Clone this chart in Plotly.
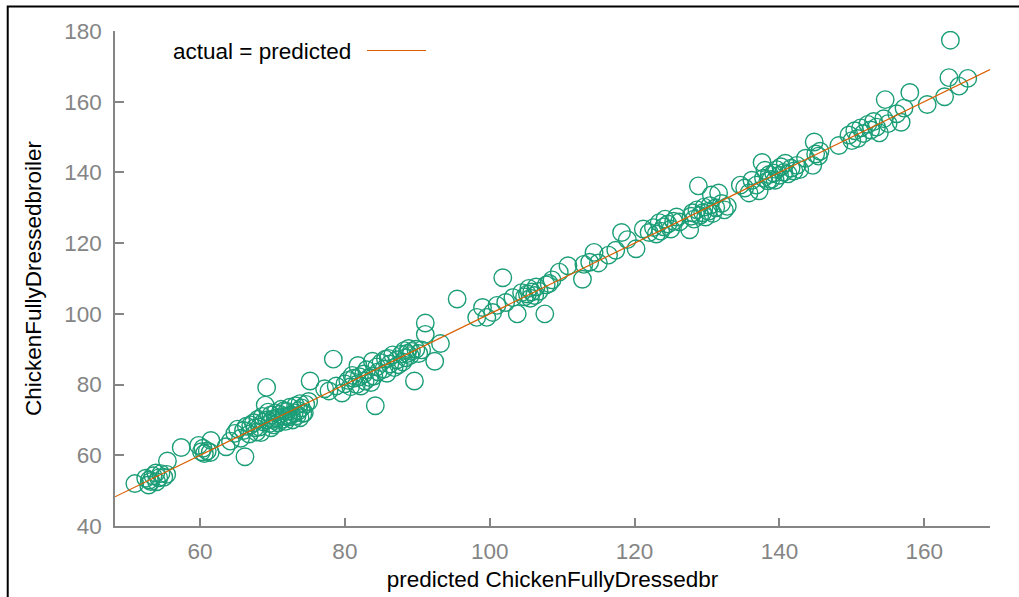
import plotly.graph_objects as go

# predicted vs actual values, grouped by region of the chart
predicted = [
    51.0, 52.5, 52.9, 53.2, 53.5, 53.9, 54.3, 54.6, 55.0, 55.4, 55.5, 53.0, 54.0,
    57.4, 59.8, 60.2, 60.6, 61.0, 61.4, 61.5, 60.4,
    63.6, 64.2, 64.8, 65.2, 65.6, 66.2, 66.0, 66.4, 66.8, 67.0, 67.4, 67.8, 68.0, 68.2, 68.6,
    69.2, 69.0, 69.2, 69.6, 69.8, 70.0, 70.2, 70.4, 70.6, 70.8, 71.0, 71.2, 71.4, 71.6, 71.8,
    72.0, 72.2, 72.4, 72.6, 72.8, 73.0, 73.2, 73.4, 73.6, 73.8, 74.0, 74.2, 74.4, 74.6, 75.0,
    75.2, 73.8, 67.6, 68.8, 69.4, 70.4, 71.6, 72.2, 69.8, 68.4,
    77.2, 77.8, 78.4, 78.8, 79.6, 80.0, 80.4, 80.8, 81.2, 81.6, 81.8, 82.0, 82.2, 82.6, 82.8,
    83.0, 83.4, 83.6, 83.8, 84.2, 84.4, 84.6, 85.0, 85.4, 85.8, 86.0, 86.2, 86.6, 86.8, 87.2,
    87.4, 87.8, 88.0, 88.2, 88.4, 88.6, 88.8, 89.0, 89.2, 89.6, 89.8, 90.2, 90.6, 91.1, 91.1,
    92.4, 93.2, 81.0, 84.0, 85.6,
    95.5, 98.2, 99.0, 99.6, 100.4, 101.0, 101.8, 102.2, 103.2, 103.8, 104.4, 104.8, 105.2,
    105.4, 105.6, 105.8, 106.2, 106.4, 106.8, 107.6, 107.8, 108.2, 108.6, 109.6, 110.8, 112.8,
    113.0, 113.8, 114.4, 115.0, 116.4, 117.4, 118.2, 119.0, 120.2,
    121.2, 122.0, 122.6, 123.0, 123.4, 123.6, 124.0, 124.2, 124.6, 125.0, 125.4, 125.8, 126.2,
    127.6, 127.8, 128.0, 128.2, 128.6, 128.8, 129.0, 129.4, 129.6, 129.8, 130.2, 130.4, 130.6,
    130.8, 131.2, 131.6, 132.0, 132.4, 132.8,
    134.6, 135.2, 135.8, 136.2, 136.8, 137.2, 137.6, 137.8, 138.0, 138.4, 138.6, 138.8, 139.2,
    139.4, 139.6, 140.0, 140.2, 140.6, 140.8, 141.2, 141.6, 142.0, 142.4, 142.8, 143.6, 144.6,
    144.8, 145.0, 145.4, 145.6,
    148.2, 149.6, 150.0, 150.4, 150.8, 151.2, 151.6, 152.2, 152.6, 153.0, 153.4, 153.8, 154.4,
    154.6, 155.0, 156.2, 156.8, 157.2, 158.0, 160.4, 162.8, 163.4, 163.6, 164.8, 166.0,
]
actual = [
    52.0, 53.5, 51.6, 52.6, 54.2, 55.0, 53.6, 54.8, 53.8, 54.6, 58.4, 53.0, 52.5,
    62.2, 62.8, 61.0, 60.5, 61.2, 60.8, 64.2, 62.0,
    62.4, 64.0, 66.2, 67.4, 64.8, 59.6, 67.0, 68.2, 66.0, 68.6, 69.2, 66.6, 70.2, 68.0, 71.0,
    79.2, 74.2, 70.0, 69.0, 71.4, 70.2, 68.6, 72.0, 70.6, 69.2, 71.6, 73.0, 70.2, 71.0, 69.6,
    72.4, 70.8, 73.6, 71.4, 70.0, 72.0, 74.0, 71.2, 72.6, 70.6, 73.4, 71.8, 72.0, 74.4, 75.2,
    81.0, 74.6, 67.8, 69.4, 72.2, 69.8, 72.6, 71.2, 67.8, 66.4,
    78.8, 78.2, 87.2, 79.6, 77.6, 80.2, 81.2, 79.4, 81.8, 80.0, 85.4, 82.2, 79.6, 83.0, 81.0,
    84.2, 82.0, 80.6, 86.6, 74.0, 85.0, 83.6, 86.2, 84.4, 83.2, 87.4, 85.8, 88.4, 84.8, 87.0,
    85.6, 88.6, 86.4, 89.6, 87.6, 88.8, 90.2, 88.2, 89.4, 81.0, 90.0, 88.8, 89.8, 97.4, 94.2,
    86.6, 91.6, 82.6, 82.4, 87.2,
    104.2, 99.0, 101.8, 99.0, 100.4, 102.4, 110.2, 103.2, 104.6, 100.0, 106.0, 104.8, 105.6,
    107.2, 104.4, 106.2, 105.2, 107.6, 106.4, 100.0, 108.2, 108.6, 109.6, 111.8, 113.6, 109.8,
    114.0, 114.6, 117.4, 114.4, 116.6, 118.0, 123.0, 121.0, 118.4,
    124.0, 123.0, 124.4, 122.6, 125.8, 123.4, 124.6, 126.8, 125.4, 124.0, 126.2, 127.4, 126.0,
    123.8, 127.6, 128.6, 126.8, 129.4, 136.2, 127.8, 128.6, 130.2, 127.4, 129.0, 130.6, 133.6,
    128.4, 130.0, 134.2, 131.2, 129.4, 130.4,
    136.4, 135.6, 134.2, 137.8, 136.4, 134.8, 142.8, 138.4, 140.6, 137.6, 139.4, 138.0, 139.8,
    137.8, 140.8, 139.2, 141.6, 140.0, 142.6, 139.6, 141.2, 140.4, 142.0, 140.8, 144.0, 142.0,
    148.6, 145.2, 144.6, 146.0,
    147.6, 150.6, 149.0, 151.8, 149.6, 152.6, 151.0, 153.6, 152.0, 154.4, 152.8, 151.2, 155.2,
    160.6, 153.8, 156.6, 154.2, 158.2, 162.6, 159.2, 161.4, 166.8, 177.4, 164.4, 166.6,
]

# reference line actual = predicted, across the x range
line_x = [48.26, 169.07]
line_y = [48.26, 169.07]

x_ticks = [60, 80, 100, 120, 140, 160]
y_ticks = [40, 60, 80, 100, 120, 140, 160, 180]

GREEN = "#1b9e77"
ORANGE = "#d95f02"
GRAY = "#858585"
FONT = "Liberation Sans, Arial, Helvetica, sans-serif"
FS = 22.5

fig = go.Figure()
fig.add_trace(go.Scatter(
    x=predicted, y=actual, mode="markers", showlegend=False,
    marker=dict(symbol="circle-open", size=17.5, color=GREEN, line=dict(width=1.4, color=GREEN)),
))
fig.add_trace(go.Scatter(
    x=line_x, y=line_y, mode="lines", showlegend=False,
    line=dict(color=ORANGE, width=1.2),
))

# legend: text then line sample (gnuplot style)
fig.add_annotation(
    x=0.272, y=0.9576, xref="paper", yref="paper", xanchor="right", yanchor="middle",
    text="actual = predicted", showarrow=False, font=dict(family=FONT, size=FS, color="black"),
)
fig.add_shape(type="line", xref="paper", yref="paper", x0=0.288, x1=0.3554, y0=0.9606, y1=0.9606,
              line=dict(color=ORANGE, width=1.2))

# outer black frame (left and top visible)
fig.add_shape(type="rect", xref="paper", yref="paper", x0=-0.1226, x1=1.5, y0=-0.5, y1=1.0495,
              line=dict(color="black", width=2), layer="above")

fig.update_layout(
    width=1019, height=597,
    margin=dict(l=115, r=29, t=31, b=71, autoexpand=False),
    paper_bgcolor="white", plot_bgcolor="white",
    font=dict(family=FONT, size=FS, color="black"),
    xaxis=dict(
        range=[48.26, 169.07], tickvals=x_ticks, showgrid=False, zeroline=False,
        showline=True, linecolor=GRAY, linewidth=1.5, ticks="inside", ticklen=8,
        tickcolor=GRAY, tickwidth=1.5, tickfont=dict(family=FONT, size=FS, color=GRAY),
        ticklabelstandoff=4, automargin=False,
        title=dict(text="predicted ChickenFullyDressedbr", font=dict(family=FONT, size=FS, color="black"),
                   standoff=8),
    ),
    yaxis=dict(
        range=[40, 180], tickvals=y_ticks, showgrid=False, zeroline=False,
        showline=True, linecolor=GRAY, linewidth=1.5, ticks="inside", ticklen=9,
        tickcolor=GRAY, tickwidth=1.5, tickfont=dict(family=FONT, size=FS, color=GRAY),
        ticklabelstandoff=7, automargin=False,
        title=dict(text="ChickenFullyDressedbroiler", font=dict(family=FONT, size=FS, color="black"),
                   standoff=16),
    ),
)

fig.write_html("out.html")
